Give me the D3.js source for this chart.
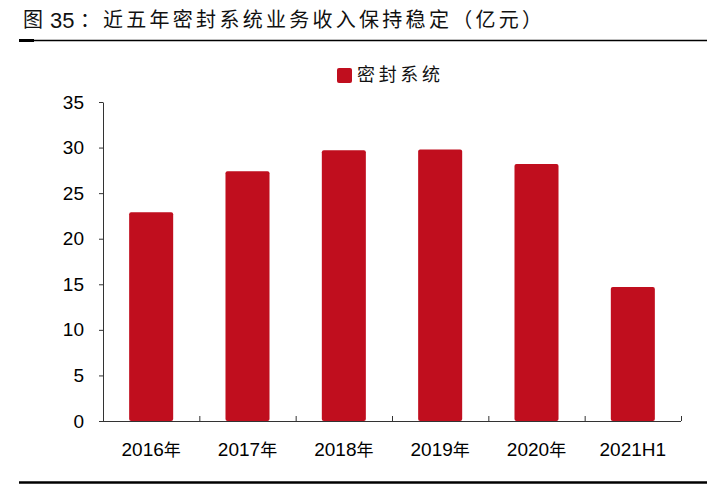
<!DOCTYPE html>
<html><head><meta charset="utf-8">
<script src="https://cdn.jsdelivr.net/npm/d3@7"></script>
<style>html,body{margin:0;padding:0;background:#fff;}</style>
</head><body>
<svg id="c" width="707" height="488"></svg>
<script>
const categories = ["2016年","2017年","2018年","2019年","2020年","2021H1"];
const values = [22.9, 27.4, 29.7, 29.8, 28.2, 14.7];
const yTicks = [0,5,10,15,20,25,30,35];
const seriesName = "密封系统";
const titleFig = "图";
const titleNum = "35";
const titleColon = "：";
const titleBody = "近五年密封系统业务收入保持稳定（亿元）";

const svg = d3.select("#c");
const red = "#C00E1E";
const axisColor = "#333";
const latin = "Liberation Sans, Arial, sans-serif";
const cjk = "'Noto Sans CJK SC', sans-serif";

// title
svg.append("text").attr("x",23).attr("y",27).attr("font-family",cjk).attr("font-size",20).attr("fill","#111").text(titleFig);
svg.append("text").attr("x",50).attr("y",28).attr("font-family",latin).attr("font-size",22).attr("fill","#111").text(titleNum);
svg.append("text").attr("x",80).attr("y",27).attr("font-family",cjk).attr("font-size",20).attr("fill","#111").text(titleColon);
svg.append("text").attr("x",103).attr("y",27).attr("font-family",cjk).attr("font-size",20)
  .attr("fill","#111").attr("textLength",439).attr("lengthAdjust","spacing").text(titleBody);
svg.append("line").attr("x1",19).attr("x2",707).attr("y1",40.5).attr("y2",40.5).attr("stroke","#000").attr("stroke-width",1.5);
svg.append("line").attr("x1",19).attr("x2",34).attr("y1",40.5).attr("y2",40.5).attr("stroke","#000").attr("stroke-width",3);
svg.append("line").attr("x1",19).attr("x2",707).attr("y1",482.5).attr("y2",482.5).attr("stroke","#000").attr("stroke-width",2.5);

// legend
svg.append("rect").attr("x",337).attr("y",68).attr("width",15).attr("height",15).attr("rx",2).attr("fill",red);
svg.append("text").attr("x",357).attr("y",81).attr("font-family",cjk).attr("font-size",18)
  .attr("fill","#111").attr("textLength",83).attr("lengthAdjust","spacing").text(seriesName);

const x = d3.scaleBand().domain(categories).range([103,681]).padding(0);
const y = d3.scaleLinear().domain([0,35]).range([421,102]);
const barW = x.bandwidth()*0.457;

svg.selectAll("rect.bar").data(values).enter().append("rect").attr("class","bar")
  .attr("x",(d,i)=>x(categories[i])+x.bandwidth()/2-barW/2)
  .attr("y",d=>y(d)).attr("width",barW).attr("height",d=>y(0)-y(d))
  .attr("rx",2).attr("fill",red);

// y axis
const ya = svg.append("g").attr("transform","translate(103,0)")
  .call(d3.axisLeft(y).tickValues(yTicks).tickSize(4).tickPadding(15).tickSizeOuter(0));
ya.select(".domain").attr("stroke",axisColor);
ya.selectAll(".tick line").attr("stroke",axisColor);
ya.selectAll(".tick text").attr("font-family",latin).attr("font-size",19).attr("fill","#000");

// x axis
const xa = svg.append("g").attr("transform","translate(0,421)");
xa.append("line").attr("x1",103).attr("x2",681).attr("y1",0.5).attr("y2",0.5).attr("stroke",axisColor);
const bounds = categories.map(c=>x(c)+x.bandwidth());
xa.selectAll("line.tk").data(bounds).enter().append("line").attr("class","tk")
  .attr("x1",d=>d+0.5).attr("x2",d=>d+0.5).attr("y1",0).attr("y2",-5).attr("stroke",axisColor);
xa.selectAll("text.lb").data(categories).enter().append("text").attr("class","lb")
  .attr("x",d=>x(d)+x.bandwidth()/2).attr("y",35).attr("text-anchor","middle")
  .attr("font-family",latin).attr("font-size",19).attr("fill","#000")
  .each(function(d){
    const t = d3.select(this);
    if (d.endsWith("年")) {
      t.append("tspan").text(d.slice(0,-1));
      t.append("tspan").attr("font-family",cjk).attr("font-size",17).text("年");
    } else t.text(d);
  });
</script>
</body></html>
